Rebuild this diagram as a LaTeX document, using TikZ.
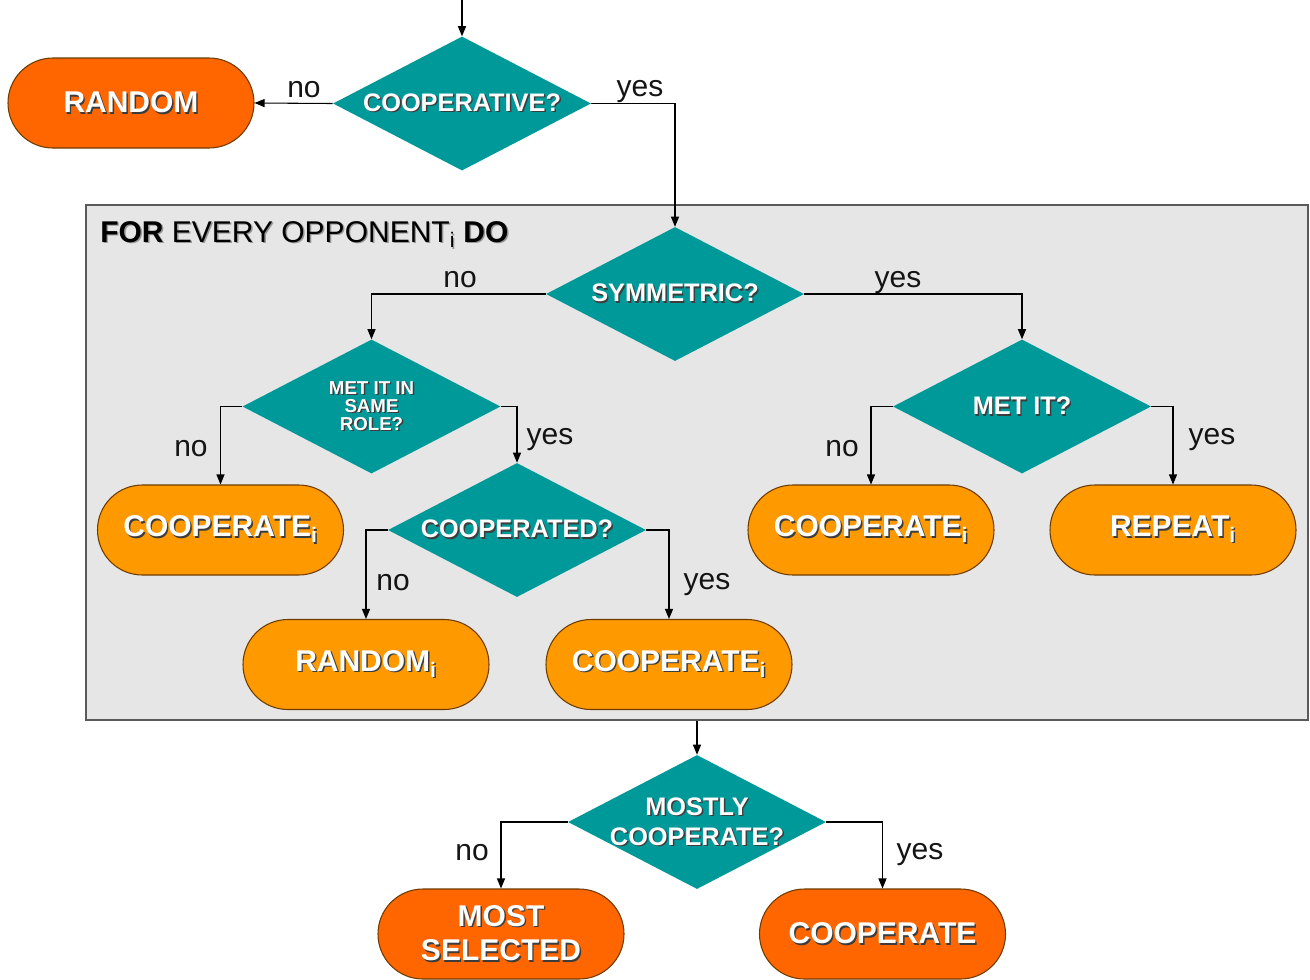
\documentclass[tikz,border=0pt]{standalone}
\usepackage{fontspec}
\setmainfont{Liberation Sans}
\usetikzlibrary{shapes.geometric,arrows.meta}
\definecolor{tealfill}{RGB}{0,153,153}
\definecolor{orangeL}{RGB}{255,153,0}
\definecolor{orangeD}{RGB}{255,102,0}
\definecolor{loopgray}{RGB}{230,230,230}
\definecolor{loopedge}{RGB}{90,90,90}
\definecolor{boxedge}{RGB}{110,60,0}
\definecolor{shadowc}{RGB}{60,60,60}
\definecolor{shadowt}{RGB}{150,150,150}
\definecolor{labelc}{RGB}{20,20,20}
\newcommand\sh[2][shadowc]{\makebox[0pt][l]{\kern1.1pt\raisebox{-1.1pt}{\color{#1}#2}}#2}
\newcommand\subi{\textsubscript{i}}
\begin{document}
\begin{tikzpicture}[x=0.75pt,y=-0.75pt,
  decision/.style={diamond, fill=tealfill, inner sep=0pt, minimum width=193.5pt, minimum height=100.5pt},
  dtext/.style={text=white, font=\bfseries\fontsize{19}{22.5}\selectfont, align=center, inner sep=0pt},
  action/.style={rectangle, rounded corners=33.7pt, draw=boxedge, line width=0.8pt, minimum width=184.5pt, minimum height=67.5pt, text=white, font=\bfseries\fontsize{22.5}{26}\selectfont, align=center, inner sep=0pt},
  light/.style={action, fill=orangeL},
  dark/.style={action, fill=orangeD},
  lbl/.style={text=labelc, font=\fontsize{22.5}{26}\selectfont, anchor=base, inner sep=0pt},
  flow/.style={draw=black, line width=0.8pt, -{Triangle[length=7.5pt,width=6pt]}},
  loopbox/.style={rectangle, fill=loopgray, draw=loopedge, line width=0.8pt, inner sep=0pt, minimum width=916.5pt, minimum height=386.25pt}
]
\fill[white] (0,0) rectangle (1310,979);
\useasboundingbox (0,0) rectangle (1310,979);

% loop container
\node[loopbox] (loop) at (697,462.5) {};
\node[anchor=base west, inner sep=0pt, text=black, font=\fontsize{22.5}{26}\selectfont] (title) at (100,242)
  {\sh[shadowt]{\textbf{FOR} EVERY OPPONENT\subi{} \textbf{DO}}};

% decisions
\node[decision, label={[dtext]center:\sh{COOPERATIVE?}}] (coop) at (462,103.5) {};
\node[decision, label={[dtext]center:\sh{SYMMETRIC?}}] (sym) at (675,294) {};
\node[decision, label={[dtext,font=\bfseries\fontsize{14}{13.5}\selectfont]center:{\sh{MET IT IN}\\\sh{SAME}\\\sh{ROLE?}}}] (role) at (371.5,406.5) {};
\node[decision, label={[dtext]center:\sh{COOPERATED?}}] (coopd) at (517,530) {};
\node[decision, label={[dtext]center:\sh{MET IT?}}] (met) at (1022,406.5) {};
\node[decision, label={[dtext]center:{\sh{MOSTLY}\\\sh{COOPERATE?}}}] (mostly) at (697,822) {};

% actions
\node[dark] (random) at (131,103) {\sh{RANDOM}};
\node[light] (coopL) at (220.5,530) {\sh{COOPERATE\subi}};
\node[light] (randi) at (366,664.5) {\sh{RANDOM\subi}};
\node[light] (coopM) at (669,664.5) {\sh{COOPERATE\subi}};
\node[light] (coopR) at (871,530) {\sh{COOPERATE\subi}};
\node[light] (repeat) at (1173,530) {\sh{REPEAT\subi}};
\node[dark] (mostsel) at (501,934) {\sh{MOST}\\[0pt]\sh{SELECTED}};
\node[dark] (coopF) at (882.5,934) {\sh{COOPERATE}};

% connectors
\coordinate (start) at (462,0);
\draw[flow] (start) -- (coop.north);
\draw[flow] (coop.west) -- (random.east);
\draw[flow] (coop.east) -| (sym.north);
\draw[flow] (sym.west) -| (role.north);
\draw[flow] (sym.east) -| (met.north);
\draw[flow] (role.west) -| (coopL.north);
\draw[flow] (role.east) -| (coopd.north);
\draw[flow] (coopd.west) -| (randi.north);
\draw[flow] (coopd.east) -| (coopM.north);
\draw[flow] (met.west) -| (coopR.north);
\draw[flow] (met.east) -| (repeat.north);
\draw[flow] (loop.south) -- (mostly.north);
\draw[flow] (mostly.west) -| (mostsel.north);
\draw[flow] (mostly.east) -| (coopF.north);

% branch labels
\node[lbl] (l1) at (304,97) {no};
\node[lbl] (l2) at (640,96) {yes};
\node[lbl] (l3) at (460,287) {no};
\node[lbl] (l4) at (898,287) {yes};
\node[lbl] (l5) at (191,456) {no};
\node[lbl] (l6) at (550,444) {yes};
\node[lbl] (l7) at (393,590) {no};
\node[lbl] (l8) at (707,589) {yes};
\node[lbl] (l9) at (842,456) {no};
\node[lbl] (l10) at (1212,444) {yes};
\node[lbl] (l11) at (472,860) {no};
\node[lbl] (l12) at (920,859) {yes};
\end{tikzpicture}
\end{document}
